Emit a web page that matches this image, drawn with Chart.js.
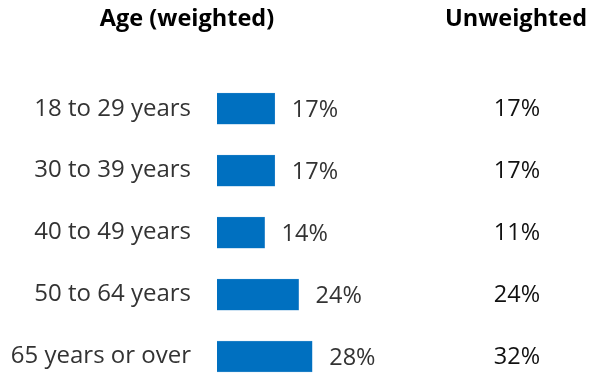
<!DOCTYPE html>
<html>
<head>
<meta charset="utf-8">
<script src="https://cdn.jsdelivr.net/npm/chart.js@4/dist/chart.umd.min.js"></script>
<style>
  html, body { margin: 0; padding: 0; background: #ffffff; }
  #c { display: block; }
</style>
</head>
<body>
<canvas id="c" width="598" height="373"></canvas>
<script>
const categories = ["18 to 29 years", "30 to 39 years", "40 to 49 years", "50 to 64 years", "65 years or over"];
const weightedValues = [17, 17, 14, 24, 28];
const unweightedValues = [17, 17, 11, 24, 32];
const weightedTitle = "Age (weighted)";
const unweightedTitle = "Unweighted";

const FONT = "'Open Sans', 'Noto Sans', sans-serif";

const labelsPlugin = {
  id: 'labelsPlugin',
  afterDatasetsDraw(chart) {
    const ctx = chart.ctx;
    const meta = chart.getDatasetMeta(0);
    ctx.save();
    ctx.font = "23.5px " + FONT;
    ctx.fillStyle = "#333333";
    ctx.textAlign = "left";
    ctx.textBaseline = "middle";
    meta.data.forEach((bar, i) => {
      ctx.fillText(weightedValues[i] + "%", bar.x + 17, bar.y + 2);
    });
    ctx.fillStyle = "#111111";
    ctx.textAlign = "center";
    meta.data.forEach((bar, i) => {
      ctx.fillText(unweightedValues[i] + "%", 517, bar.y + 0.5);
    });
    ctx.font = "bold 23.5px " + FONT;
    ctx.fillStyle = "#000000";
    ctx.fillText(weightedTitle, 187, 19);
    ctx.fillText(unweightedTitle, 516, 19);
    ctx.restore();
  }
};

new Chart(document.getElementById('c'), {
  type: 'bar',
  data: {
    labels: categories,
    datasets: [{
      data: weightedValues,
      backgroundColor: '#0070C0',
      borderColor: '#3d8fd0',
      borderWidth: 0.5,
      barThickness: 31,
      clip: false
    }]
  },
  options: {
    indexAxis: 'y',
    responsive: false,
    animation: false,
    events: [],
    layout: { padding: { top: 108.7, bottom: 16.5, left: 0, right: 245 } },
    plugins: {
      legend: { display: false },
      tooltip: { enabled: false },
      title: { display: false }
    },
    scales: {
      x: {
        display: false,
        min: 0,
        max: 40
      },
      y: {
        type: 'category',
        offset: false,
        grid: { display: false, drawTicks: false },
        border: { display: false },
        ticks: {
          padding: 26,
          color: '#333333',
          font: { family: FONT, size: 24 }
        },
        afterFit(scale) {
          scale.width = 217;
          scale.paddingTop = 0;
          scale.paddingBottom = 0;
        }
      }
    }
  },
  plugins: [labelsPlugin]
});
</script>
</body>
</html>
